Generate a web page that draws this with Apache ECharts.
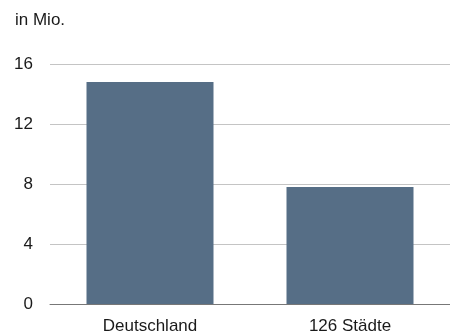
<!DOCTYPE html>
<html><head><meta charset="utf-8">
<script src="https://cdn.jsdelivr.net/npm/echarts@6/dist/echarts.min.js"></script>
<style>html,body{margin:0;padding:0;background:#fff}#c{width:450px;height:335px}</style>
</head><body><div id="c"></div>
<script>
const categories = ["Deutschland", "126 Städte"];
const values = [14.8, 7.8];
const yTicks = [0, 4, 8, 12, 16];
const unitLabel = "in Mio.";

const chart = echarts.init(document.getElementById('c'), null, {renderer: 'canvas'});
chart.setOption({
  animation: false,
  title: {text: unitLabel, left: 10, top: 7, textStyle: {fontFamily: 'Liberation Sans, Arial', fontSize: 17, fontWeight: 'normal', color: '#1a1a1a'}},
  grid: {left: 50, right: -6, top: 64, bottom: 31},
  xAxis: {type: 'category', data: categories,
    axisLine: {lineStyle: {color: '#777', width: 1}},
    axisTick: {show: false},
    axisLabel: {fontFamily: 'Liberation Sans, Arial', fontSize: 17, color: '#1a1a1a', margin: 14}},
  yAxis: {type: 'value', min: yTicks[0], max: yTicks[yTicks.length-1], interval: 4,
    axisLine: {show: false}, axisTick: {show: false},
    splitLine: {lineStyle: {color: '#c4c4c4', width: 1}},
    axisLabel: {fontFamily: 'Liberation Sans, Arial', fontSize: 17, color: '#1a1a1a', margin: 17}},
  series: [{type: 'bar', data: values, barWidth: 127, itemStyle: {color: '#566e86'}}]
});
</script></body></html>
